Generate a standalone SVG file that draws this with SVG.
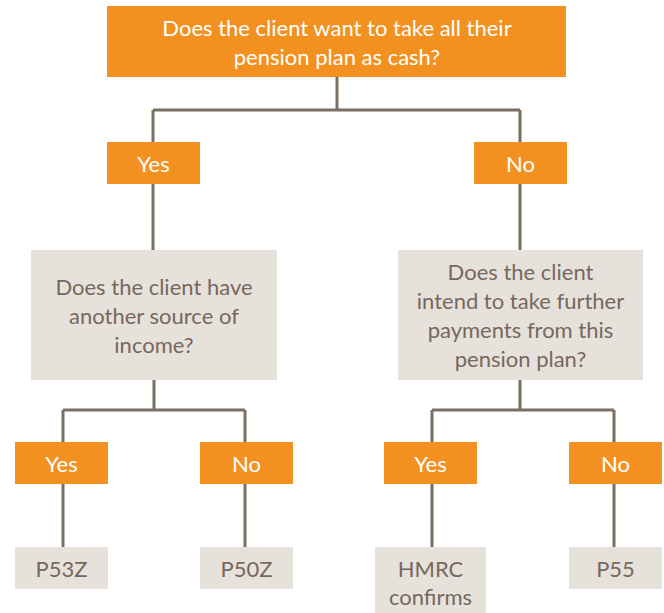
<svg xmlns="http://www.w3.org/2000/svg" width="664" height="613" viewBox="0 0 664 613">
<style>
.o{fill:#F39120}
.g{fill:#E6E1DB}
.wt{fill:#FFFFFF;font-family:Lato,"Open Sans",sans-serif;font-size:22px;text-anchor:middle}
.gt{fill:#77685D;font-family:Lato,"Open Sans",sans-serif;font-size:22px;text-anchor:middle}
.c{stroke:#7B6E63;stroke-width:3;fill:none}
</style>
<rect width="664" height="613" fill="#FFFFFF"/>
<g id="connectors">
<path class="c" d="M337 77V110M153 110H520M153 110V250M520 110V250"/>
<path class="c" d="M154 380V410M63 410H245M63 410V547M245 410V547"/>
<path class="c" d="M520 380V410M432 410H614M432 410V547M614 410V547"/>
</g>
<g id="q1"><rect class="o" x="107" y="6" width="459" height="71"/>
<text class="wt" x="337" y="36">Does the client want to take all their</text>
<text class="wt" x="337" y="65">pension plan as cash?</text></g>
<g id="yes1"><rect class="o" x="107" y="142" width="93" height="42"/><text class="wt" x="153.5" y="172">Yes</text></g>
<g id="no1"><rect class="o" x="474" y="142" width="93" height="42"/><text class="wt" x="520.5" y="172">No</text></g>
<g id="q2"><rect class="g" x="31" y="250" width="246" height="130"/>
<text class="gt" x="154" y="295">Does the client have</text>
<text class="gt" x="154" y="324">another source of</text>
<text class="gt" x="154" y="353">income?</text></g>
<g id="q3"><rect class="g" x="398" y="250" width="245" height="130"/>
<text class="gt" x="520.5" y="280">Does the client</text>
<text class="gt" x="520.5" y="309">intend to take further</text>
<text class="gt" x="520.5" y="338">payments from this</text>
<text class="gt" x="520.5" y="367">pension plan?</text></g>
<g id="yes2"><rect class="o" x="15" y="442" width="93" height="42"/><text class="wt" x="61.5" y="472">Yes</text></g>
<g id="no2"><rect class="o" x="200" y="442" width="93" height="42"/><text class="wt" x="246.5" y="472">No</text></g>
<g id="yes3"><rect class="o" x="384" y="442" width="93" height="42"/><text class="wt" x="430.5" y="472">Yes</text></g>
<g id="no3"><rect class="o" x="569" y="442" width="93" height="42"/><text class="wt" x="615.5" y="472">No</text></g>
<g id="p53z"><rect class="g" x="15" y="547" width="93" height="42"/><text class="gt" x="61.5" y="577">P53Z</text></g>
<g id="p50z"><rect class="g" x="200" y="547" width="93" height="42"/><text class="gt" x="246.5" y="577">P50Z</text></g>
<g id="hmrc"><rect class="g" x="375" y="547" width="111" height="66"/><text class="gt" x="430.5" y="577">HMRC</text><text class="gt" x="430.5" y="605">confirms</text></g>
<g id="p55"><rect class="g" x="569" y="547" width="93" height="42"/><text class="gt" x="615.5" y="577">P55</text></g>
</svg>
